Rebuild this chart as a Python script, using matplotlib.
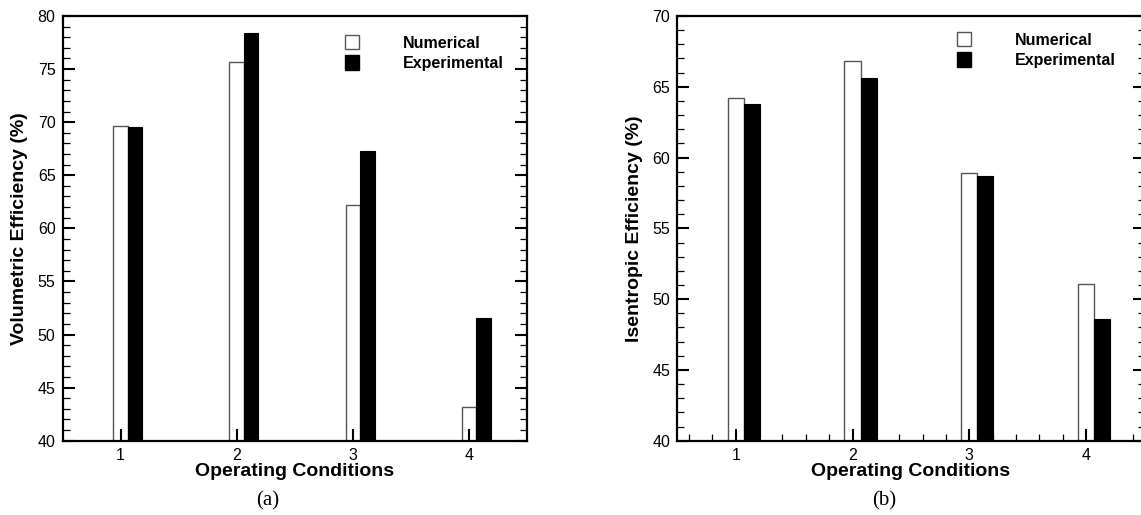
import matplotlib
matplotlib.use("Agg")
import matplotlib.pyplot as plt
from matplotlib.patches import Patch
from matplotlib.ticker import MultipleLocator

plt.rcParams['font.family'] = ['Liberation Sans', 'DejaVu Sans']

conditions = [1, 2, 3, 4]
vol_numerical = [69.6, 75.7, 62.2, 43.2]
vol_experimental = [69.5, 78.4, 67.3, 51.6]
ise_numerical = [64.2, 66.8, 58.9, 51.1]
ise_experimental = [63.8, 65.6, 58.7, 48.6]
series_labels = ["Numerical", "Experimental"]
ylabels = ["Volumetric Efficiency (%)", "Isentropic Efficiency (%)"]
xlabel = "Operating Conditions"
captions = ["(a)", "(b)"]

W, H = 1141, 515
fig = plt.figure(figsize=(W / 100, H / 100), dpi=100)

def px(x0, y0, x1, y1):
    return [x0 / W, 1 - y1 / H, (x1 - x0) / W, (y1 - y0) / H]

ax1 = fig.add_axes(px(62.5, 16, 527, 440.7))
ax2 = fig.add_axes(px(677.3, 16, 1144.5, 440.7))

def style(ax, ylim, width, num, exp, ylabel, xminor):
    ax.bar([c for c in conditions], num, width=width, color='white',
           edgecolor='#555555', linewidth=1.0, align='center')
    ax.bar([c + width for c in conditions], exp, width=width, color='black',
           edgecolor='black', linewidth=0.8, align='center')
    ax.set_xlim(0.5, 4.5)
    ax.set_ylim(*ylim)
    ax.set_xticks(conditions)
    ax.yaxis.set_major_locator(MultipleLocator(5))
    ax.yaxis.set_minor_locator(MultipleLocator(1))
    if xminor:
        ax.xaxis.set_minor_locator(MultipleLocator(0.2))
    for s in ax.spines.values():
        s.set_linewidth(1.6)
    ax.tick_params(axis='y', which='both', direction='in', left=True, right=True)
    ax.tick_params(axis='x', which='both', direction='in', bottom=True, top=False)
    ax.tick_params(which='major', length=8.5, width=1.5, labelsize=11.5, pad=5)
    ax.tick_params(which='minor', length=5, width=0.9)
    ax.set_ylabel(ylabel, fontsize=14, fontweight='bold', labelpad=7)
    ax.set_xlabel(xlabel, fontsize=14, fontweight='bold', labelpad=0)

style(ax1, (40, 80), 0.125, vol_numerical, vol_experimental, ylabels[0], False)
style(ax2, (40, 70), 0.137, ise_numerical, ise_experimental, ylabels[1], True)

handles = [Patch(facecolor='white', edgecolor='#555555', linewidth=1.0),
           Patch(facecolor='black', edgecolor='black')]
for ax, (lx, ly) in ((ax1, (345, 35)), (ax2, (957, 32))):
    ax.legend(handles, series_labels, loc='upper left',
              bbox_to_anchor=(lx / W, 1 - ly / H), bbox_transform=fig.transFigure,
              frameon=False, borderpad=0, borderaxespad=0,
              handlelength=0.85, handleheight=1.0, handletextpad=2.75,
              labelspacing=0.3, prop={'weight': 'bold', 'size': 11.5})

for cx, txt in ((268, captions[0]), (884.6, captions[1])):
    fig.text(cx / W, 1 - 500.5 / H, txt, ha='center', va='center',
             fontsize=15, family=['Liberation Serif', 'DejaVu Serif'])

fig.savefig("out.png", dpi=100)
